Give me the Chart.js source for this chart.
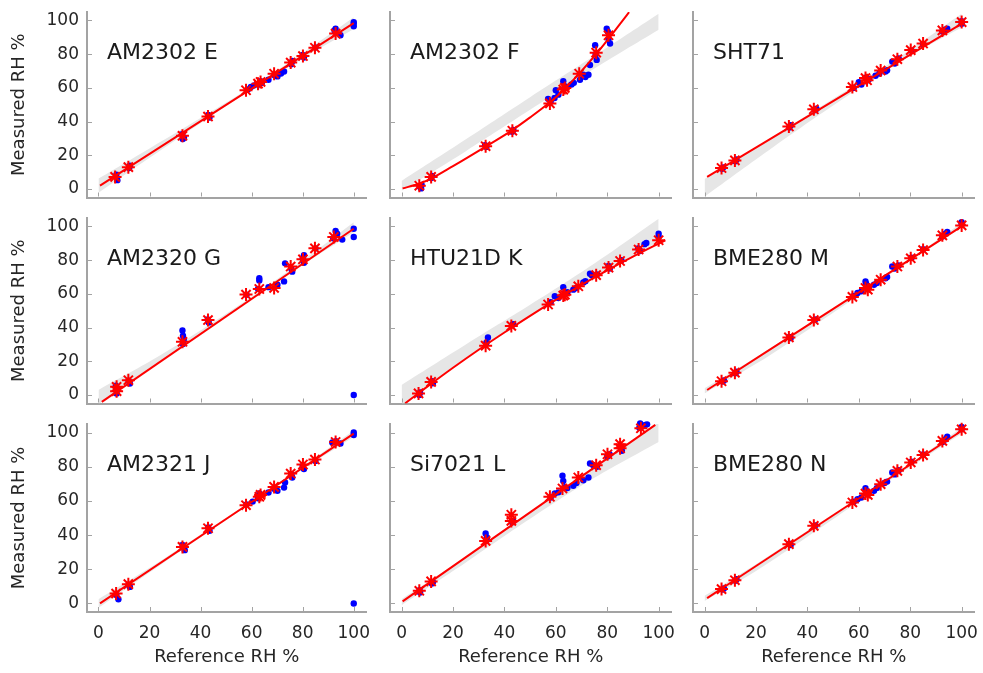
<!DOCTYPE html>
<html>
<head>
<meta charset="utf-8">
<script src="https://cdn.jsdelivr.net/npm/chart.js@4.4.1/dist/chart.umd.min.js"></script>
<style>
  html, body { margin: 0; padding: 0; background: #fff; }
  #wrap { position: relative; width: 983px; height: 673px; overflow: hidden; }
  #wrap canvas { position: absolute; }
</style>
</head>
<body>
<div id="wrap"></div>
<script>
// panel names, left to right, top to bottom
const sensorNames = ['AM2302 E', 'AM2302 F', 'SHT71', 'AM2320 G', 'HTU21D K', 'BME280 M', 'AM2321 J', 'Si7021 L', 'BME280 N'];
const tickValues = [0, 20, 40, 60, 80, 100];

// red stars: [reference RH, measured RH]
const starsE = [[6.5,7.2],[11.7,13],[32.9,31.6],[42.9,43],[57.8,58.6],[62.5,62.5],[63.5,63.5],[68.8,68.4],[75.3,75],[80.1,78.9],[84.8,83.8],[92.9,92.2]];
const starsF = [[6.9,2],[11.5,7.2],[32.7,25.4],[43.1,34.6],[57.7,50.8],[62.9,59],[63.5,60],[69.1,68.4],[75.7,80.9],[80.5,91.2]];
const starsSHT = [[6.6,12.5],[11.8,17],[32.8,37.1],[42.5,47.3],[57.5,60.5],[62.6,65.8],[63.2,64.5],[68.5,70.3],[75,77],[80.2,82.4],[85,86.3],[92.5,94.1],[100,99]];
const starsG = [[7.1,2.3],[7.1,4.9],[11.7,8.8],[32.9,31.6],[42.9,44.5],[57.8,59.6],[63,62.9],[68.8,63.5],[75.3,76.2],[80.1,80.5],[84.8,87],[92.2,93.75]];
const starsK = [[6.6,1],[11.5,7.8],[32.7,29.3],[42.7,41],[57,53.7],[62.9,59],[63.5,59.5],[68.75,64.5],[75.7,71.1],[80.5,75.6],[85,79.5],[92.2,86.3],[100,91.8]];
const starsM = [[6.6,8.2],[11.8,13.3],[32.8,34.2],[42.5,44.5],[57.5,58.2],[62.6,63.5],[63.5,62.5],[68.5,68.4],[75,76.2],[80.2,81.1],[85,86],[92.5,94.7],[100,100.6]];
const starsJ = [[6.9,5.8],[11.7,11.3],[32.9,33.1],[42.9,44],[57.8,57.5],[63,62.4],[63.5,63.5],[68.8,68.2],[75.3,76],[80.1,81.3],[84.8,84.2],[92.9,94.5]];
const starsL = [[6.9,7.4],[11.5,12.9],[32.7,36.6],[42.7,48.3],[42.7,51.9],[57.7,62.4],[62.6,67.3],[68.75,73.7],[75.7,80.9],[80.1,87.3],[85,90.8],[85,93.2],[93.1,102.5]];
const starsN = [[6.6,8.4],[11.8,13.6],[32.8,34.7],[42.5,45.4],[57.5,59.1],[62.6,64.3],[63.5,63.5],[68.5,69.8],[75,77.6],[80.2,82.5],[85,86.8],[92.5,95.1],[100,101.9]];

// blue dots: single readings
const dotsE = [[7.4,5.3],[7,8.5],[12,12.5],[12.3,13.8],[33,29.7],[33.5,30.5],[32.8,32.5],[43.5,42.4],[43,44],[59.7,60.5],[58.5,59],[61,61.5],[63,62],[63.5,64],[64,63],[66.6,64.8],[70.1,66.8],[69,67.5],[72.7,69.7],[71.5,68.5],[75.5,74],[76,76],[80.5,78],[80,79.5],[85,84],[92.9,95.1],[92.5,94],[94.8,91.2],[100,99],[100,96.5],[100,98]];
const dotsF = [[7.6,0.4],[7,1.5],[7.8,2.5],[11.9,7.8],[11.5,6.5],[33,25],[32.5,26],[43,34],[43.5,35],[57,53.5],[58,52],[59.5,54],[60,58.6],[61,56],[62.9,63.9],[63.5,61],[64,60],[66.1,62],[67,63],[69.4,64.8],[70.7,67.8],[72.7,67.8],[71.5,66.5],[73.3,73.6],[75.3,85.3],[75.9,76.6],[75.5,80],[79.8,95.1],[80.2,93.5],[81.1,86.3],[80.5,89]];
const dotsSHT = [[6.8,12],[7.2,12.8],[12,16.5],[12.4,17.5],[33,36.5],[33.5,37.8],[43,46.8],[43.5,47.6],[58,60],[60,63.3],[61,62],[62.6,66],[63.5,64.5],[64,65.2],[66.5,67.2],[68,68.5],[70.4,69.7],[71,70.5],[73,75.6],[74,74.5],[75.5,77.5],[80.5,82],[85,86],[92.5,93.5],[93.5,94.5],[94.4,95.1],[100,98],[100,99.5]];
const dotsG = [[7.4,3.9],[7.1,1],[6.8,5.5],[12.3,6.8],[11.8,8.5],[32.9,38.3],[33.1,35.2],[33.1,30.3],[33.4,33],[43.2,43],[42.8,44.8],[58,59.5],[63,69.3],[63,68],[62.5,63],[66.6,64],[70.1,65.4],[72.7,67.4],[73.1,78.1],[75.9,73.2],[75.5,75],[80.5,78.5],[80.5,83],[80,81],[85,87],[92.9,97.3],[93.5,95.7],[95.5,92.2],[92,93],[100,98.6],[100,93.75],[100,0]];
const dotsK = [[6.9,0],[7.2,1.5],[11.8,8.2],[12.2,7],[33.6,34.2],[33,31],[43.4,42],[43,41.5],[58,55],[59.6,58.6],[61,57.5],[62.9,64],[63.5,60.5],[64.5,61],[66.8,62.5],[68,63.5],[70.7,66.8],[71.5,67.5],[73.3,71.9],[74,71],[76,71.5],[80.5,76.6],[81,75],[85.5,80],[92.8,85.4],[92,87],[95.2,90.2],[94.5,89.5],[100,95.7],[100,93.75]];
const dotsM = [[7,8],[7.5,8.6],[12,13],[12.4,13.8],[33,34.5],[33.5,33.8],[43,44.8],[58,58.8],[59.5,60.5],[61,61.5],[62.6,67.4],[62.8,66],[63.5,64.5],[65.9,65.4],[67,66.5],[70.4,69.3],[71,70],[73,76.2],[74,75],[75.5,76.8],[80.5,81.5],[85,86.5],[92.5,94],[93.5,95.5],[94.4,96.7],[100,102.5],[100,101.3]];
const dotsJ = [[7.8,2.5],[7,5],[12.3,9.7],[11.8,11],[32.9,34.3],[33.8,31.2],[43.5,42.5],[43,44.5],[58,58],[60.4,59.6],[63,64.3],[62.5,61.5],[66.6,64.9],[70.1,65.9],[69,67],[72.7,67.8],[73.1,70.8],[75.9,73.7],[75.5,75.5],[80.5,78.6],[80,80.5],[85,83.4],[91.6,94.2],[94.8,93.6],[93,95],[100,100],[100,98.6],[100,0]];
const dotsL = [[7.2,6.4],[7,7.8],[11.8,11.7],[12.2,12.5],[32.7,40.9],[33.2,38.6],[33,37],[43.4,48.3],[43,47.5],[58,62],[59.6,64.3],[61,65],[62.6,74.7],[62.9,71.7],[63.5,68],[64.5,67.5],[66.8,68.8],[68,70.5],[70.7,72.1],[72.7,73.7],[73.3,81.9],[74.5,81],[76,80],[80.9,87.3],[80,86],[85.7,89.3],[85.5,91.5],[92.8,105.3],[94.8,104.5],[93.5,103.5],[92.5,102.8],[95.5,104.8]];
const dotsN = [[7,8.2],[7.5,8.8],[12,13.3],[12.4,14.2],[33,35],[33.5,34.2],[43,45.6],[58,59.5],[59.5,61],[61,62],[62.6,67.4],[62.8,66],[63.5,65],[65.9,65.9],[67,67.5],[71,71.3],[70,70.5],[73,76.6],[74,75.5],[75.5,78],[80.5,83],[85,87.2],[92.5,94.5],[93.5,96],[94.4,97.5],[100,103.3],[100,102]];

// red fitted curves
const fitE = [[0.6,2],[100,98.4]];
const fitF = [[0.4,0.4],[7,3.3],[11.5,6.2],[20,13.6],[32.7,25.2],[43.1,35],[50,42.5],[57.7,51.5],[62.9,58.5],[69.1,68.5],[75.7,80],[80.5,89.1],[85,97.9],[88.5,104.9]];
const fitSHT = [[1,7.2],[101.5,99.5]];
const fitG = [[1.3,-4],[100,98.6]];
const fitK = [[1.4,-4.9],[10,5],[20,16.2],[30,26.9],[40,37.1],[50,47],[60,56.4],[70,65.4],[80,74],[90,82.1],[102.6,91.8]];
const fitM = [[1,3],[101.5,101.5]];
const fitJ = [[0.6,0],[100,99.4]];
const fitL = [[0.4,1.2],[98.7,104.5]];
const fitN = [[1,3.1],[101.5,102.5]];

// grey bands: [reference RH, lower, upper]
const bandE = [[0,-2.2,6.2],[20,18.5,24.1],[40,39.1,42.1],[60,59,60.6],[80,77.5,80.7],[100,94.9,101.9]];
const bandF = [[0,-1,4.8],[25,22.5,29.5],[50,47,54.5],[75,71.5,79],[100,94.5,104]];
const bandSHT = [[0,-4.5,6],[25,23,29.5],[50,49.5,53.5],[75,74.5,77.5],[100,96,104]];
const bandG = [[0,-5.5,3],[25,20.3,24.3],[50,46.2,48.2],[75,72.2,74.2],[100,96.5,102.5]];
const bandK = [[0,-6,6],[25,22,30],[50,46.5,53.5],[75,70,78],[100,91,104.5]];
const bandM = [[0,1,4],[20,18.5,22.5],[40,38.5,41.5],[55,54,56],[70,69.5,70.5],[100,99.5,102]];
const bandJ = [[0,-2.5,2.5],[25,23.3,25.6],[50,48.8,50.1],[75,73.6,75.1],[100,97.5,101.2]];
const bandL = [[0,-1,2.5],[25,24,27.3],[50,49.5,53.6],[75,73.5,80],[100,94.5,106]];
const bandN = [[0,1.5,4.5],[20,19,23],[40,39,42.5],[55,54.5,57],[70,70,71.5],[100,99.5,103]];

const panels = [
  { stars: starsE, dots: dotsE, fit: fitE, band: bandE },
  { stars: starsF, dots: dotsF, fit: fitF, band: bandF },
  { stars: starsSHT, dots: dotsSHT, fit: fitSHT, band: bandSHT },
  { stars: starsG, dots: dotsG, fit: fitG, band: bandG },
  { stars: starsK, dots: dotsK, fit: fitK, band: bandK },
  { stars: starsM, dots: dotsM, fit: fitM, band: bandM },
  { stars: starsJ, dots: dotsJ, fit: fitJ, band: bandJ },
  { stars: starsL, dots: dotsL, fit: fitL, band: bandL },
  { stars: starsN, dots: dotsN, fit: fitN, band: bandN }
];

// grid geometry
const colLeft = [0, 375, 680], colWidth = [375, 305, 303], yAxisWidth = [87, 15, 13], padRight = [7, 8, 8];
const rowTop = [0, 206, 412], rowHeight = [206, 206, 261], xAxisHeight = [6, 6, 61];

const axisColor = '#a3a3a3';
const textColor = '#262626';
const red = '#ff0000', blue = '#0000ff', bandColor = '#e6e6e6';

Chart.defaults.font.family = "'DejaVu Sans', sans-serif";
Chart.defaults.color = textColor;

const toPts = pairs => pairs.map(p => ({ x: p[0], y: p[1] }));

function panelPlugin(name) {
  return {
    id: 'panelDecor',
    afterDraw(chart) {
      const { ctx, chartArea: a, scales: { x, y } } = chart;
      ctx.save();
      // short ticks pointing into the plot
      ctx.strokeStyle = axisColor;
      ctx.lineWidth = 1;
      ctx.beginPath();
      tickValues.forEach(v => {
        const px = Math.round(x.getPixelForValue(v)) + 0.5;
        ctx.moveTo(px, a.bottom - 1);
        ctx.lineTo(px, a.bottom - 5);
        const py = Math.round(y.getPixelForValue(v)) + 0.5;
        ctx.moveTo(a.left + 1, py);
        ctx.lineTo(a.left + 5, py);
      });
      ctx.stroke();
      // sensor name
      ctx.fillStyle = '#1a1a1a';
      ctx.font = "22px 'DejaVu Sans', sans-serif";
      ctx.textBaseline = 'middle';
      ctx.textAlign = 'left';
      ctx.fillText(name, a.left + 20, a.top + 41);
      ctx.restore();
    }
  };
}

const wrap = document.getElementById('wrap');

panels.forEach((p, i) => {
  const row = Math.floor(i / 3), col = i % 3;
  const canvas = document.createElement('canvas');
  canvas.width = colWidth[col];
  canvas.height = rowHeight[row];
  canvas.style.left = colLeft[col] + 'px';
  canvas.style.top = rowTop[row] + 'px';
  wrap.appendChild(canvas);

  new Chart(canvas, {
    type: 'line',
    data: {
      datasets: [
        {
          data: p.band.map(b => ({ x: b[0], y: b[1] })),
          borderWidth: 0, borderColor: 'transparent', pointRadius: 0,
          fill: false, tension: 0.4, order: 5
        },
        {
          data: p.band.map(b => ({ x: b[0], y: b[2] })),
          borderWidth: 0, borderColor: 'transparent', pointRadius: 0,
          fill: '-1', backgroundColor: bandColor, tension: 0.4, order: 4
        },
        {
          data: toPts(p.dots), showLine: false,
          pointRadius: 3.2, pointBackgroundColor: blue, pointBorderWidth: 0,
          order: 3, clip: false
        },
        {
          data: toPts(p.fit), borderColor: red, borderWidth: 2, pointRadius: 0,
          cubicInterpolationMode: 'monotone', fill: false, order: 2
        },
        {
          data: toPts(p.stars), showLine: false, pointStyle: 'star',
          pointRadius: 6.5, pointBorderColor: red, pointBackgroundColor: red,
          pointBorderWidth: 2, order: 1, clip: false
        }
      ]
    },
    options: {
      responsive: false,
      devicePixelRatio: 1,
      animation: false,
      events: [],
      layout: { padding: { top: 12, right: padRight[col], bottom: 0, left: 0 } },
      plugins: { legend: { display: false }, tooltip: { enabled: false } },
      scales: {
        x: {
          type: 'linear', min: -4.5, max: 105,
          afterBuildTicks: s => { s.ticks = tickValues.map(v => ({ value: v })); },
          afterFit: s => { s.height = xAxisHeight[row]; s.paddingLeft = 0; s.paddingRight = 0; },
          grid: { display: false, drawTicks: false },
          border: { display: true, color: axisColor, width: 2 },
          ticks: { display: row === 2, padding: 11, color: textColor, font: { size: 17 }, maxRotation: 0, autoSkip: false },
          title: { display: row === 2, text: 'Reference RH %', color: textColor, font: { size: 18 }, padding: { top: 0, bottom: 5 } }
        },
        y: {
          type: 'linear', min: -5, max: 105,
          afterBuildTicks: s => { s.ticks = tickValues.map(v => ({ value: v })); },
          afterFit: s => { s.width = yAxisWidth[col]; s.paddingTop = 0; s.paddingBottom = 0; },
          grid: { display: false, drawTicks: false },
          border: { display: true, color: axisColor, width: 2 },
          ticks: { display: col === 0, padding: 8, color: textColor, font: { size: 17 }, autoSkip: false },
          title: { display: col === 0, text: 'Measured RH %', color: textColor, font: { size: 18 }, padding: { top: 9, bottom: 0 } }
        }
      }
    },
    plugins: [panelPlugin(sensorNames[i])]
  });
});
</script>
</body>
</html>
